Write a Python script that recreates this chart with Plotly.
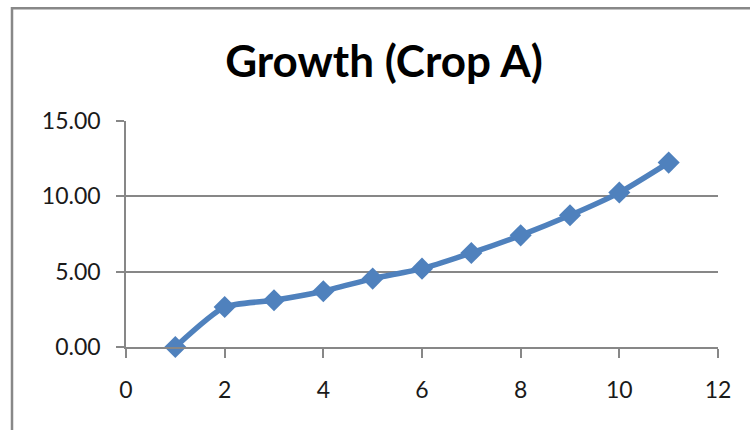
import plotly.graph_objects as go

days = [1, 2, 3, 4, 5, 6, 7, 8, 9, 10, 11]
growth = [0.00, 2.65, 3.10, 3.70, 4.54, 5.20, 6.24, 7.41, 8.74, 10.25, 12.24]
title_text = "Growth (Crop A)"
y_ticks = [0, 5, 10, 15]
x_ticks = [0, 2, 4, 6, 8, 10, 12]

LINE = "#4F81BD"
GRID = "#878787"
FONT = "Lato, Open Sans, sans-serif"

fig = go.Figure()
fig.add_trace(go.Scatter(
    x=days, y=growth, mode="lines+markers",
    line=dict(color=LINE, width=5.5, shape="spline", smoothing=0.6),
    marker=dict(symbol="diamond", size=17, color=LINE),
    showlegend=False, cliponaxis=False,
))

fig.update_layout(
    width=750, height=430,
    margin=dict(l=126, r=32, t=121, b=83),
    paper_bgcolor="white", plot_bgcolor="white",
    title=dict(text="<b>" + title_text + "</b>", x=0.512, xanchor="center",
               y=1 - 62/430, yanchor="middle",
               font=dict(family=FONT, size=44, color="black")),
    font=dict(family=FONT, size=23, color="#1a1a1a"),
    xaxis=dict(range=[0, 12], tickvals=x_ticks, ticktext=[str(v) for v in x_ticks],
               showgrid=False, zeroline=False, showline=True, linecolor=GRID, linewidth=1.5,
               ticks="outside", ticklen=9, tickcolor=GRID, tickwidth=1.5,
               ticklabelstandoff=13, fixedrange=True),
    yaxis=dict(range=[0, 15], tickvals=y_ticks, ticktext=["%.2f" % v for v in y_ticks],
               showgrid=True, gridcolor=GRID, gridwidth=1.5, zeroline=False,
               showline=True, linecolor=GRID, linewidth=1.5,
               ticks="outside", ticklen=8, tickcolor=GRID, tickwidth=1.5,
               ticklabelstandoff=11, fixedrange=True),
    shapes=[
        dict(type="rect", xref="paper", yref="paper",
             x0=(12 - 126) / 592, x1=1.2, y0=-0.6, y1=(347 - 8.3) / 226,
             line=dict(color="#888888", width=2.5), layer="below"),
    ],
)

fig.write_html("out.html", config={"displayModeBar": False})

with open("out.html", "r", encoding="utf-8") as f:
    html = f.read()
html = html.replace("<body>", '<body style="margin:0;overflow:hidden">', 1)
with open("out.html", "w", encoding="utf-8") as f:
    f.write(html)
